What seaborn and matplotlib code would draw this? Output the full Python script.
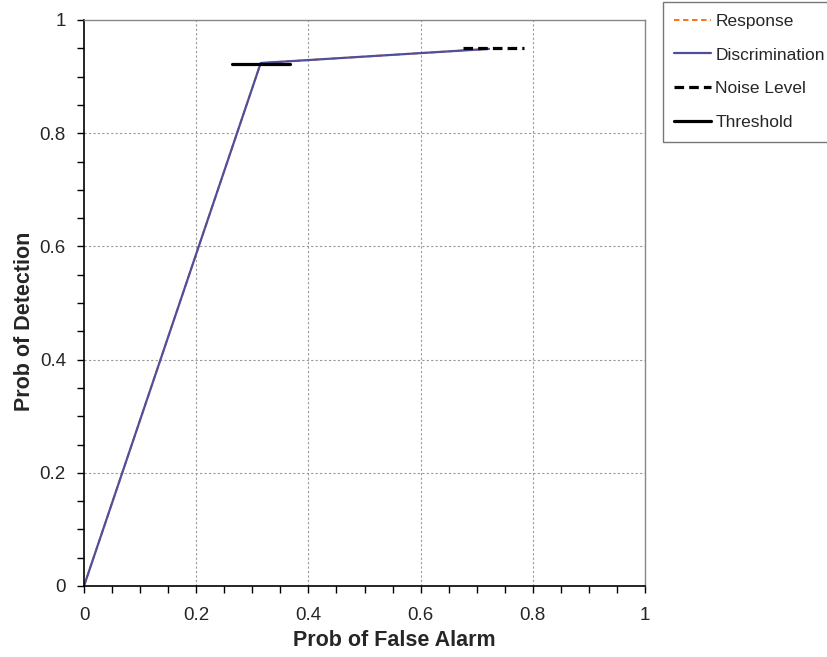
import matplotlib
matplotlib.use("Agg")
import matplotlib.pyplot as plt
import seaborn as sns
import numpy as np
import pandas as pd
from matplotlib.ticker import MultipleLocator

sns.set_style("white")
plt.rcParams['font.family'] = ['Liberation Sans', 'DejaVu Sans']

# Data
resp_x = [0.0, 0.315, 0.722]
resp_y = [0.0, 0.924, 0.949]
disc_x = [0.0, 0.315, 0.722]
disc_y = [0.0, 0.924, 0.949]
noise_x = [0.676, 0.784]
noise_y = [0.950, 0.950]
thr_x = [0.263, 0.367]
thr_y = [0.922, 0.922]

x_ticks = [0, 0.2, 0.4, 0.6, 0.8, 1]
y_ticks = [0, 0.2, 0.4, 0.6, 0.8, 1]

fig = plt.figure(figsize=(8.27, 6.57), dpi=100)
ax = fig.add_axes([84/827, 71/657, (645-84)/827, (586-20)/657])

purple = '#4F4F9C'
orange = '#FF6600'

sns.lineplot(x=resp_x, y=resp_y, ax=ax, color=orange, linestyle=(0, (3, 2)), lw=1.3,
             label='Response', sort=False, estimator=None)
sns.lineplot(x=disc_x, y=disc_y, ax=ax, color=purple, lw=1.6, label='Discrimination',
             sort=False, estimator=None)
sns.lineplot(x=noise_x, y=noise_y, ax=ax, color='black', linestyle=(0, (3, 1.6)), lw=2.3,
             label='Noise Level', sort=False, estimator=None)
sns.lineplot(x=thr_x, y=thr_y, ax=ax, color='black', lw=2.3, label='Threshold',
             sort=False, estimator=None)

ax.set_xlim(0, 1)
ax.set_ylim(0, 1)
ax.set_xticks(x_ticks)
ax.set_yticks(y_ticks)
ax.set_xticklabels([f"{t:g}" for t in x_ticks])
ax.set_yticklabels([f"{t:g}" for t in y_ticks])
ax.xaxis.set_minor_locator(MultipleLocator(0.05))
ax.yaxis.set_minor_locator(MultipleLocator(0.05))
ax.tick_params(axis='both', which='both', direction='out', length=5, width=1,
               color='black', bottom=True, left=True, labelsize=13.5)
ax.tick_params(axis='x', which='major', pad=10)
ax.tick_params(axis='y', which='major', pad=8)

for t in [0.2, 0.4, 0.6, 0.8]:
    ax.axvline(t, color='#999999', lw=0.8, ls=(0, (2, 2)), zorder=0)
    ax.axhline(t, color='#999999', lw=0.8, ls=(0, (2, 2)), zorder=0)

ax.spines['left'].set_color('black')
ax.spines['bottom'].set_color('black')
ax.spines['left'].set_linewidth(1.2)
ax.spines['bottom'].set_linewidth(1.2)
ax.spines['top'].set_color('#888888')
ax.spines['right'].set_color('#888888')
ax.spines['top'].set_linewidth(1.0)
ax.spines['right'].set_linewidth(1.0)

ax.set_xlabel('Prob of False Alarm', fontsize=15.5, fontweight='bold')
ax.set_ylabel('Prob of Detection', fontsize=15.5, fontweight='bold')
ax.xaxis.set_label_coords(0.553, -44/566, transform=ax.transAxes)
ax.yaxis.set_label_coords(-49/561, 0.468, transform=ax.transAxes)

leg = ax.legend(loc='upper left', bbox_to_anchor=(663/827, 1 - 2/657),
                bbox_transform=fig.transFigure, frameon=True, fancybox=False,
                fontsize=12.5, handlelength=2.1, handletextpad=0.25,
                labelspacing=1.08, borderpad=0.66, borderaxespad=0)
leg.get_frame().set_edgecolor('#555555')
leg.get_frame().set_linewidth(1.0)

fig.savefig('out.png', dpi=100)
